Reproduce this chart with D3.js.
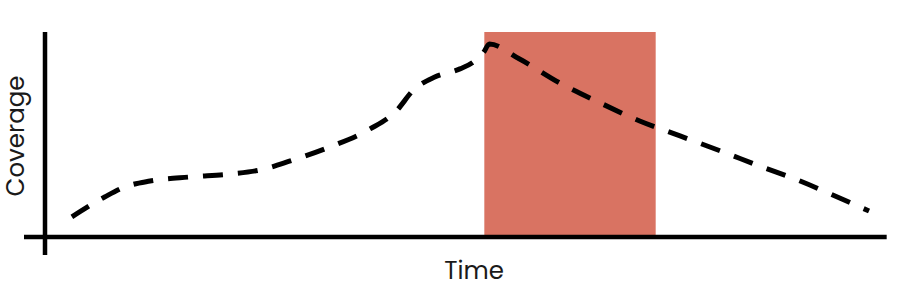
<!DOCTYPE html>
<html>
<head>
<meta charset="utf-8">
<script src="https://cdn.jsdelivr.net/npm/d3@7"></script>
<style>
    body { margin: 0; background: #fff; }
    text { font-family: "Poppins", "Inter", "Open Sans", sans-serif; fill: #1a1a1a; }
</style>
</head>
<body>
<div id="chart"></div>
<script>
// coverage curve (time and coverage in 0-100 units)
var times = [3.2, 7.1, 9.5, 12.5, 17.3, 22.0, 25.6, 29.2, 33.9, 38.7, 41.7, 44.0, 46.4, 49.4, 51.0, 52.2, 52.9,
             56.5, 61.3, 66.1, 70.8, 75.6, 80.4, 85.1, 89.9, 94.6, 98.1];
var coverage = [9.8, 19.5, 24.4, 27.3, 29.3, 30.7, 32.7, 37.1, 43.9, 52.7, 61.0, 72.2, 78.0, 82.0, 85.4, 90.0, 94.1,
                86.8, 75.1, 65.4, 56.6, 49.3, 42.0, 34.6, 27.3, 19.0, 12.7];
// highlighted window on the time axis
var bandStart = 52.3;
var bandEnd = 72.7;
var xLabel = "Time";
var yLabel = "Coverage";

var width = 907, height = 290;

var svg = d3.select("#chart").append("svg")
    .attr("width", width)
    .attr("height", height);

var x = d3.scaleLinear().domain([0, 100]).range([45, 885]);
var y = d3.scaleLinear().domain([0, 100]).range([237, 32]);

//highlight band
svg.append("rect")
    .attr("x", x(bandStart))
    .attr("y", y(100))
    .attr("width", x(bandEnd) - x(bandStart))
    .attr("height", y(0) - y(100))
    .attr("fill", "#d97362");

//axes drawn as plain thick lines
svg.append("line")
    .attr("x1", x(0)).attr("x2", x(0))
    .attr("y1", y(100)).attr("y2", y(-8.8))
    .attr("stroke", "black")
    .attr("stroke-width", 4.5);

svg.append("line")
    .attr("x1", x(-2.5)).attr("x2", x(100.2))
    .attr("y1", y(0)).attr("y2", y(0))
    .attr("stroke", "black")
    .attr("stroke-width", 4.5);

//dashed coverage line
var pts = times.map(function (t, i) { return {t: t, c: coverage[i]}; });
var line = d3.line()
    .x(function (d) { return x(d.t); })
    .y(function (d) { return y(d.c); })
    .curve(d3.curveMonotoneX);

svg.append("path")
    .attr("d", line(pts))
    .attr("fill", "none")
    .attr("stroke", "black")
    .attr("stroke-width", 5)
    .attr("stroke-dasharray", "20,15");

//labels
svg.append("text")
    .attr("x", 474)
    .attr("y", 279)
    .attr("text-anchor", "middle")
    .style("font-size", "24.5px")
    .text(xLabel);

svg.append("text")
    .attr("transform", "translate(24,136) rotate(-90)")
    .attr("text-anchor", "middle")
    .style("font-size", "24.5px")
    .text(yLabel);
</script>
</body>
</html>
